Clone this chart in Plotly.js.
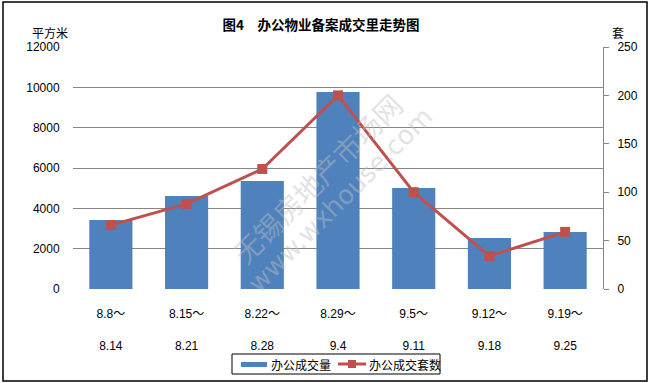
<!DOCTYPE html>
<html>
<head>
<meta charset="utf-8">
<script src="https://cdn.plot.ly/plotly-3.0.1.min.js"></script>
<style>html,body{margin:0;padding:0;background:#fff;}#chart{width:650px;height:383px;}</style>
</head>
<body>
<div id="chart"></div>
<script>
// ---- data ----
const startLabels = ["8.8～", "8.15～", "8.22～", "8.29～", "9.5～", "9.12～", "9.19～"];
const endLabels = ["8.14", "8.21", "8.28", "9.4", "9.11", "9.18", "9.25"];
const areaValues = [3420, 4610, 5355, 9765, 5005, 2530, 2830];   // 办公成交量 (平方米)
const unitValues = [66, 88, 124, 200, 100, 34, 59];               // 办公成交套数 (套)
const leftTicks = [0, 2000, 4000, 6000, 8000, 10000, 12000];
const rightTicks = [0, 50, 100, 150, 200, 250];
const seriesNames = ["办公成交量", "办公成交套数"];

// ---- geometry helpers ----
const W = 650, H = 383;
const L = 73, R = 603, T = 47, B = 289;
const px = x => (x - L) / (R - L);
const py = y => (B - y) / (B - T);

const tickText = startLabels.map((s, i) => s + "<br><br>" + endLabels[i]);
const FONT = "Liberation Sans, Arial, Noto Sans CJK SC, sans-serif";
const CJK = "Noto Sans CJK SC, sans-serif";
const BLUE = "#4F81BD", RED = "#C0504D";

const traces = [
  {
    type: "bar", name: seriesNames[0], x: startLabels, y: areaValues,
    marker: {color: BLUE}, yaxis: "y"
  },
  {
    type: "scatter", mode: "lines+markers", name: seriesNames[1],
    x: startLabels, y: unitValues, yaxis: "y2",
    line: {color: RED, width: 3},
    marker: {symbol: "square", size: 10, color: RED}
  }
];

const layout = {
  width: W, height: H,
  margin: {l: L, r: W - R, t: T, b: H - B, pad: 0, autoexpand: false},
  paper_bgcolor: "#fff", plot_bgcolor: "#fff",
  font: {family: FONT, size: 12, color: "#000"},
  showlegend: false,
  bargap: 0.43,
  title: {
    text: "<b>图4　办公物业备案成交里走势图</b>",
    font: {family: CJK, size: 13.5, color: "#000"},
    xref: "container", yref: "container",
    x: 321 / W, xanchor: "center", y: 1 - 25 / H, yanchor: "middle"
  },
  xaxis: {
    type: "category", tickmode: "array", tickvals: startLabels, ticktext: tickText,
    showline: false, showgrid: false, zeroline: false, automargin: false,
    ticks: "outside", ticklen: 0, ticklabelstandoff: 14,
    tickfont: {family: FONT, size: 12, color: "#000"},
    fixedrange: true
  },
  yaxis: {
    range: [0, 12000], tickmode: "array", tickvals: leftTicks,
    ticktext: leftTicks.map(String), automargin: false,
    showgrid: true, gridcolor: "#868686", gridwidth: 1,
    zeroline: false, showline: false,
    ticks: "outside", ticklen: 10, tickcolor: "rgba(0,0,0,0)",
    tickfont: {family: FONT, size: 12, color: "#000"},
    fixedrange: true
  },
  yaxis2: {
    overlaying: "y", side: "right", range: [0, 250],
    tickmode: "array", tickvals: rightTicks, ticktext: rightTicks.map(String),
    showgrid: false, zeroline: false, automargin: false,
    showline: true, linecolor: "#868686", linewidth: 1,
    ticks: "outside", ticklen: 5, tickcolor: "#868686",
    ticklabelstandoff: 6,
    tickfont: {family: FONT, size: 12, color: "#000"},
    fixedrange: true
  },
  annotations: [
    {text: "平方米", xref: "paper", yref: "paper", x: px(50), y: py(32),
     xanchor: "center", yanchor: "middle", showarrow: false,
     font: {family: CJK, size: 12}},
    {text: "套", xref: "paper", yref: "paper", x: px(618), y: py(32),
     xanchor: "center", yanchor: "middle", showarrow: false,
     font: {family: CJK, size: 12}},
    {text: "无锡房地产市场网", xref: "paper", yref: "paper", x: px(317), y: py(178),
     xanchor: "center", yanchor: "middle", showarrow: false, textangle: -45,
     font: {family: CJK, size: 28, color: "rgba(190,190,190,0.45)"}},
    {text: "www.wxhouse.com", xref: "paper", yref: "paper", x: px(340), y: py(200),
     xanchor: "center", yanchor: "middle", showarrow: false, textangle: -45,
     font: {family: "DejaVu Sans, sans-serif", size: 26, color: "rgba(190,190,190,0.45)"}},
    // legend texts
    {text: seriesNames[0], xref: "paper", yref: "paper", x: px(269), y: py(364),
     xanchor: "left", yanchor: "middle", showarrow: false,
     font: {family: CJK, size: 12}},
    {text: seriesNames[1], xref: "paper", yref: "paper", x: px(367), y: py(364),
     xanchor: "left", yanchor: "middle", showarrow: false,
     font: {family: CJK, size: 12}}
  ],
  shapes: [
    // chart border
    {type: "rect", xref: "paper", yref: "paper",
     x0: px(3), x1: px(647), y0: py(381), y1: py(2),
     line: {color: "#000", width: 1.5}, fillcolor: "rgba(0,0,0,0)", layer: "above"},
    // legend box
    {type: "rect", xref: "paper", yref: "paper",
     x0: px(232), x1: px(440), y0: py(374), y1: py(354),
     line: {color: "#000", width: 1}, fillcolor: "#fff", layer: "above"},
    // legend swatch: bar
    {type: "rect", xref: "paper", yref: "paper",
     x0: px(241), x1: px(267), y0: py(367), y1: py(362),
     line: {width: 0}, fillcolor: BLUE, layer: "above"},
    // legend swatch: line + marker
    {type: "line", xref: "paper", yref: "paper",
     x0: px(338), x1: px(366), y0: py(364), y1: py(364),
     line: {color: RED, width: 3}, layer: "above"},
    {type: "rect", xref: "paper", yref: "paper",
     x0: px(348), x1: px(356), y0: py(368), y1: py(360),
     line: {width: 0}, fillcolor: RED, layer: "above"}
  ]
};

Plotly.newPlot("chart", traces, layout, {staticPlot: true, displayModeBar: false});
</script>
</body>
</html>
